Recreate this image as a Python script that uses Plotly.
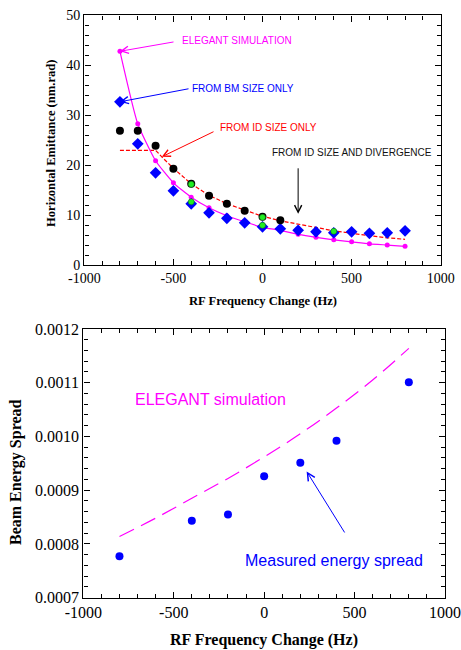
import plotly.graph_objects as go

# ---------------- DATA ----------------
# Top panel: horizontal emittance (nm.rad) vs RF frequency change (Hz)
freq_sim = [-800, -700, -600, -500, -400, -300, -200, -100, 0, 100, 200, 300, 400, 500, 600, 700, 800]
emit_elegant = [42.8, 28.3, 20.9, 16.5, 13.6, 11.5, 9.9, 8.7, 7.6, 7.0, 6.2, 5.6, 5.1, 4.7, 4.3, 4.05, 3.8]

freq_bm = [-800, -700, -600, -500, -400, -300, -200, -100, 0, 100, 200, 300, 400, 500, 600, 700, 800]
emit_bm = [32.7, 24.3, 18.5, 14.9, 12.3, 10.5, 9.4, 8.5, 7.7, 7.3, 7.0, 6.7, 6.5, 6.7, 6.4, 6.5, 6.9]

freq_id = [-800, -700, -600, -500, -400, -300, -200, -100, 0, 100]
emit_id = [26.9, 26.9, 23.9, 19.3, 16.3, 13.9, 12.3, 10.9, 9.7, 9.0]

freq_iddiv = [-400, -400, 0, 0, 400]
emit_iddiv = [16.2, 12.7, 9.6, 8.0, 6.8]

freq_idfit = [-800, -600, -560, -500, -400, -300, -200, -100, 0, 100, 200, 300, 400, 500, 600, 700, 800]
emit_idfit = [23.0, 23.0, 21.5, 19.4, 16.3, 14.0, 12.3, 11.0, 9.8, 8.9, 8.2, 7.5, 6.9, 6.4, 5.9, 5.5, 5.2]

# Bottom panel: beam energy spread vs RF frequency change
freq_meas = [-800, -400, -200, 0, 200, 400, 800]
spread_meas = [0.000777, 0.000843, 0.000855, 0.000926, 0.000951, 0.000992, 0.001101]

freq_simE = [-800, -600, -400, -200, 0, 200, 400, 600, 800]
spread_sim = [0.000814, 0.000848, 0.000885, 0.000922, 0.000962, 0.001005, 0.001053, 0.001105, 0.001164]

x_ticks = [-1000, -500, 0, 500, 1000]
x_ticktext = ["-1000", "-500", "0", "500", "1000"]
y1_ticks = [0, 10, 20, 30, 40, 50]
y1_ticktext = ["0", "10", "20", "30", "40", "50"]
y2_ticks = [0.0007, 0.0008, 0.0009, 0.0010, 0.0011, 0.0012]
y2_ticktext = ["0.0007", "0.0008", "0.0009", "0.0010", "0.0011", "0.0012"]

MAGENTA = "#ff00ff"
BLUE = "#0000ff"
RED = "#ff0000"

W, H = 461, 650
fig = go.Figure()

# ---- top panel traces ----
fig.add_trace(go.Scatter(x=freq_idfit, y=emit_idfit, mode="lines",
                         line=dict(color=RED, width=1.2, dash="4px,2px"),
                         xaxis="x", yaxis="y", showlegend=False))
fig.add_trace(go.Scatter(x=freq_sim, y=emit_elegant, mode="lines+markers",
                         line=dict(color=MAGENTA, width=1.2, shape="spline", smoothing=0.5),
                         marker=dict(color=MAGENTA, size=5, symbol="circle"),
                         xaxis="x", yaxis="y", showlegend=False))
fig.add_trace(go.Scatter(x=freq_bm, y=emit_bm, mode="markers",
                         marker=dict(color=BLUE, size=9, symbol="diamond"),
                         xaxis="x", yaxis="y", showlegend=False))
fig.add_trace(go.Scatter(x=freq_id, y=emit_id, mode="markers",
                         marker=dict(color="black", size=8, symbol="circle"),
                         xaxis="x", yaxis="y", showlegend=False))
fig.add_trace(go.Scatter(x=freq_iddiv, y=emit_iddiv, mode="markers",
                         marker=dict(color="#22ee22", size=6, symbol="circle",
                                     line=dict(color="#116611", width=0.5)),
                         xaxis="x", yaxis="y", showlegend=False))

# ---- bottom panel traces ----
fig.add_trace(go.Scatter(x=freq_simE, y=spread_sim, mode="lines",
                         line=dict(color=MAGENTA, width=1.2, dash="16px,8px", shape="spline"),
                         xaxis="x2", yaxis="y2", showlegend=False))
fig.add_trace(go.Scatter(x=freq_meas, y=spread_meas, mode="markers",
                         marker=dict(color=BLUE, size=8, symbol="circle"),
                         xaxis="x2", yaxis="y2", showlegend=False))

serif = "Liberation Serif, Times New Roman, serif"
sans = "Liberation Sans, Arial, sans-serif"

def axis_common(tickfont_size, vals, text, rng, minor_dtick, minor_tick0):
    return dict(range=rng, tickmode="array", tickvals=vals, ticktext=text,
                showline=True, linecolor="black", linewidth=1.4, mirror="allticks",
                ticks="inside", ticklen=6, tickwidth=1.3, tickcolor="black",
                showgrid=False, zeroline=False, automargin=False,
                minor=dict(dtick=minor_dtick, tick0=minor_tick0, ticks="inside", ticklen=4,
                           tickwidth=1.2, tickcolor="black", showgrid=False),
                tickfont=dict(family=serif, size=tickfont_size, color="black"))

fig.update_layout(
    template="none",
    width=W, height=H, margin=dict(l=0, r=0, t=0, b=0), showlegend=False,
    xaxis=dict(domain=[84.3 / W, 440.7 / W], anchor="y",
               **axis_common(14, x_ticks, x_ticktext, [-1000, 1000], 100, 0)),
    yaxis=dict(domain=[1 - 265.3 / H, 1 - 15.3 / H], anchor="x",
               **axis_common(14, y1_ticks, y1_ticktext, [0, 50], 2, 0)),
    xaxis2=dict(domain=[83.3 / W, 445 / W], anchor="y2",
                **axis_common(16, x_ticks, x_ticktext, [-1000, 1000], 100, 0)),
    yaxis2=dict(domain=[1 - 597.7 / H, 1 - 329 / H], anchor="x2",
                **axis_common(16, y2_ticks, y2_ticktext, [0.0007, 0.0012], 0.00002, 0.0007)),
)

def px_x(p):
    return p / W

def px_y(p):
    return 1 - p / H

annotations = [
    # axis titles
    dict(text="<b>RF Frequency Change (Hz)</b>", x=px_x(262.5), y=px_y(301.5),
         font=dict(family=serif, size=12.6, color="black")),
    dict(text="<b>Horizontal Emittance (nm.rad)</b>", x=px_x(51), y=px_y(143),
         textangle=-90, font=dict(family=serif, size=12.6, color="black")),
    dict(text="<b>RF Frequency Change (Hz)</b>", x=px_x(264), y=px_y(640),
         font=dict(family=serif, size=16, color="black")),
    dict(text="<b>Beam Energy Spread</b>", x=px_x(16), y=px_y(472),
         textangle=-90, font=dict(family=serif, size=16, color="black")),
]
for a in annotations:
    a.update(xref="paper", yref="paper", showarrow=False, xanchor="center", yanchor="middle")

callouts = [
    # text, color, text position (px), arrow head (data), arrow tail (px)
    ("ELEGANT SIMULATION", MAGENTA, (180, 40.7), (-800, 42.8), (175, 41.7)),
    ("FROM BM SIZE ONLY", BLUE, (190, 88.7), (-800, 32.7), (190, 88.5)),
    ("FROM ID SIZE ONLY", RED, (218, 127.3), (-565, 21.7), (215, 131)),
]
for txt, col, (tx, ty), (hx, hy), (sx, sy) in callouts:
    annotations.append(dict(text=txt, x=px_x(tx), y=px_y(ty), xref="paper", yref="paper",
                            xanchor="left", yanchor="middle", showarrow=False,
                            font=dict(family=sans, size=10, color=col)))
    tail_x = (sx - 84.3) / 0.17818 - 1000
    tail_y = (265.3 - sy) / 5.0
    annotations.append(dict(text="", x=hx, y=hy, xref="x", yref="y",
                            ax=tail_x, ay=tail_y, axref="x", ayref="y",
                            showarrow=True, arrowhead=5, arrowsize=1.4, arrowwidth=1,
                            arrowcolor=col, standoff=0))

annotations.append(dict(text="FROM ID SIZE AND DIVERGENCE", x=px_x(270), y=px_y(152.3),
                        xref="paper", yref="paper", xanchor="left", yanchor="middle",
                        showarrow=False, font=dict(family=sans, size=10, color="#111111")))
annotations.append(dict(text="", x=200, y=10.3, xref="x", yref="y",
                        ax=200, ay=19.7, axref="x", ayref="y",
                        showarrow=True, arrowhead=5, arrowsize=1.4, arrowwidth=1,
                        arrowcolor="black", standoff=0))

# bottom panel labels
annotations.append(dict(text="ELEGANT simulation", x=px_x(132.7), y=px_y(399.3),
                        xref="paper", yref="paper", xanchor="left", yanchor="middle",
                        showarrow=False, font=dict(family=sans, size=16, color=MAGENTA)))
annotations.append(dict(text="Measured energy spread", x=px_x(242.7), y=px_y(560.7),
                        xref="paper", yref="paper", xanchor="left", yanchor="middle",
                        showarrow=False, font=dict(family=sans, size=16, color=BLUE)))
annotations.append(dict(text="", x=235, y=0.000935, xref="x2", yref="y2",
                        ax=450, ay=0.0008186, axref="x2", ayref="y2",
                        showarrow=True, arrowhead=5, arrowsize=1.5, arrowwidth=1,
                        arrowcolor=BLUE, standoff=0))

fig.update_layout(annotations=annotations)
fig.write_html("out.html")
